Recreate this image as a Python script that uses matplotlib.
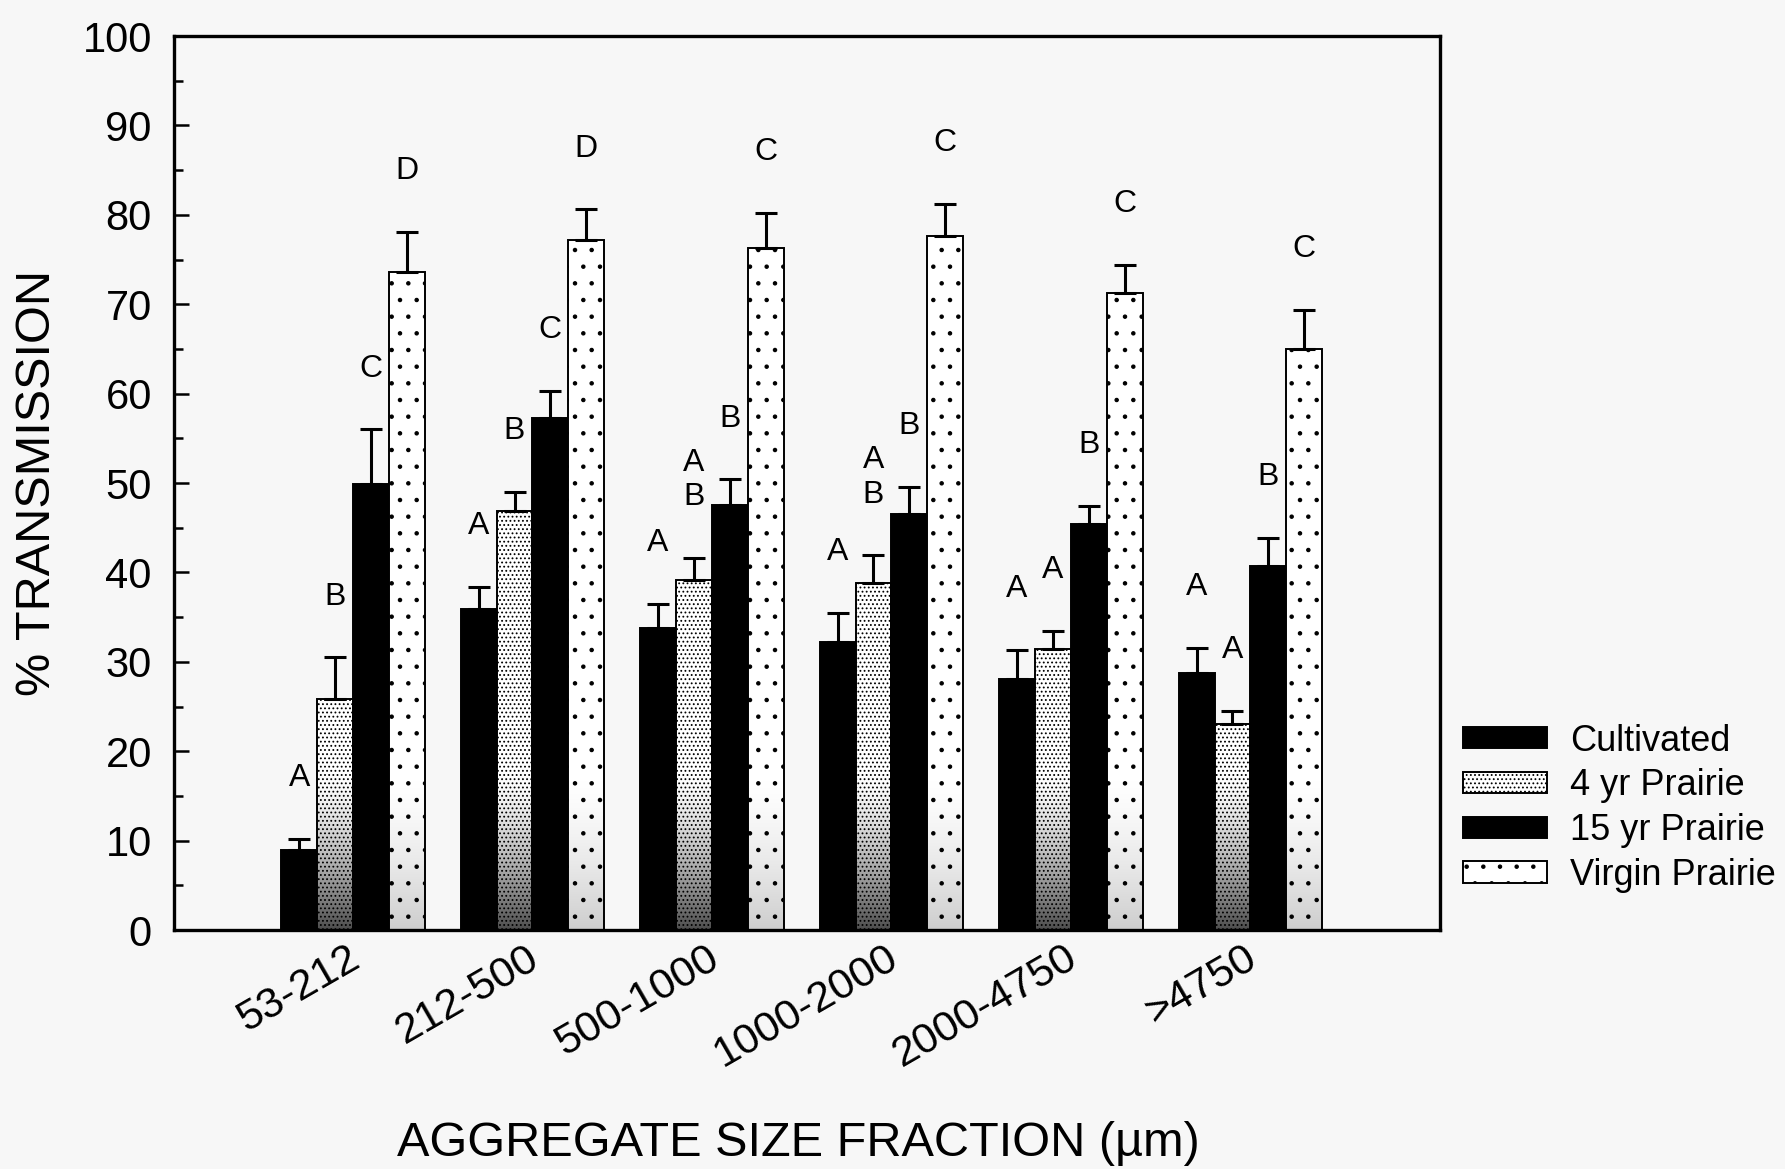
import numpy as np
import matplotlib.pyplot as plt
import matplotlib.transforms as mtransforms
from matplotlib.ticker import MultipleLocator

plt.rcParams['font.family'] = ['Liberation Sans', 'DejaVu Sans']
plt.rcParams['hatch.linewidth'] = 0.8

# Aggregate size classes (um)
size_fractions = ['53-212', '212-500', '500-1000', '1000-2000', '2000-4750', '>4750']

# Mean % transmission
cultivated = [8.9, 35.9, 33.8, 32.2, 28.1, 28.7]
prairie_4yr = [25.8, 46.9, 39.1, 38.8, 31.4, 23.0]
prairie_15yr = [49.9, 57.3, 47.5, 46.5, 45.4, 40.7]
virgin = [73.6, 77.2, 76.3, 77.6, 71.3, 65.0]

# Upper error bar lengths
cultivated_err = [1.3, 2.5, 2.7, 3.3, 3.2, 2.9]
prairie_4yr_err = [4.7, 2.1, 2.5, 3.1, 2.1, 1.5]
prairie_15yr_err = [6.1, 3.0, 2.9, 3.1, 2.0, 3.2]
virgin_err = [4.5, 3.4, 3.9, 3.6, 3.1, 4.4]

# Significance letters over each bar
cultivated_letters = ['A', 'A', 'A', 'A', 'A', 'A']
prairie_4yr_letters = ['B', 'B', 'A\nB', 'A\nB', 'A', 'A']
prairie_15yr_letters = ['C', 'C', 'B', 'B', 'B', 'B']
virgin_letters = ['D', 'D', 'C', 'C', 'C', 'C']

series_names = ['Cultivated', '4 yr Prairie', '15 yr Prairie', 'Virgin Prairie']
series_values = [cultivated, prairie_4yr, prairie_15yr, virgin]
series_errors = [cultivated_err, prairie_4yr_err, prairie_15yr_err, virgin_err]
series_letters = [cultivated_letters, prairie_4yr_letters, prairie_15yr_letters, virgin_letters]

# fill style per series: (facecolor, hatch, darkening near the base)
series_style = [('black', None, 0), ('white', '....', 0.7), ('black', None, 0), ('white', '.', 0.2)]

bg = '#f7f7f7'
fig = plt.figure(figsize=(17.85, 11.69), dpi=100, facecolor=bg)
ax = fig.add_axes([0.0975, 0.2044, 0.7092, 0.7648], facecolor=bg)

x = np.arange(len(size_fractions))
width = 0.2

# vertical shading ramp (dark at the base, fading upward) like the scanned stipple
ramp = np.linspace(0, 1, 200)[:, None]

for i in range(4):
    pos = x + (i - 1.5) * width
    vals = np.array(series_values[i])
    errs = np.array(series_errors[i])
    face, hatch, shade = series_style[i]
    bars = ax.bar(pos, vals, width, color=face, edgecolor='black', linewidth=1.4,
                  hatch=hatch, label=series_names[i], zorder=2)
    if shade > 0:
        for b in bars:
            x0 = b.get_x()
            img = ax.imshow(np.zeros_like(ramp), cmap='gray', vmin=0, vmax=1,
                            extent=(x0, x0 + width, 0, 18), origin='lower',
                            aspect='auto', zorder=2.5,
                            alpha=shade * (1 - ramp) ** 1.5)
            img.set_clip_path(b)
    ax.errorbar(pos, vals, yerr=[np.zeros_like(errs), errs], fmt='none',
                ecolor='black', elinewidth=2.2, capsize=8, capthick=2.2, zorder=3)
    for xp, top, letter in zip(pos, vals + errs, series_letters[i]):
        ax.annotate(letter, (xp, top), xytext=(0, 33), textcoords='offset points',
                    ha='center', va='bottom', fontsize=23, linespacing=1.2)

# axes
ax.set_xlim(-0.997, 6.056)
ax.set_ylim(0, 100)
ax.yaxis.set_major_locator(MultipleLocator(10))
ax.yaxis.set_minor_locator(MultipleLocator(5))
ax.tick_params(axis='y', which='major', direction='in', length=11, width=1.8,
               labelsize=30, pad=16)
ax.tick_params(axis='y', which='minor', direction='in', length=6.5, width=1.8)
ax.set_xticks(x)
ax.set_xticklabels(size_fractions, rotation=30, ha='right', va='baseline',
                   rotation_mode='anchor')
ax.tick_params(axis='x', length=0, labelsize=31, pad=25)
# nudge the rotated labels a little to the right
shift = mtransforms.ScaledTranslation(0.09, 0, fig.dpi_scale_trans)
for lbl in ax.get_xticklabels():
    lbl.set_transform(lbl.get_transform() + shift)
for s in ax.spines.values():
    s.set_linewidth(2.4)

ax.set_ylabel('% TRANSMISSION', fontsize=35, va='center')
ax.yaxis.set_label_coords(-0.108, 0.5)
ax.set_xlabel('AGGREGATE SIZE FRACTION (\u00b5m)', fontsize=35, va='center')
ax.xaxis.set_label_coords(0.493, -0.239)

ax.legend(loc='upper left', bbox_to_anchor=(0.8196, 0.381), bbox_transform=fig.transFigure,
          frameon=False, fontsize=26, handlelength=2.33, handleheight=0.53,
          labelspacing=0.27, handletextpad=0.63, borderpad=0, borderaxespad=0)

fig.savefig('out.png', dpi=100, facecolor=bg)
